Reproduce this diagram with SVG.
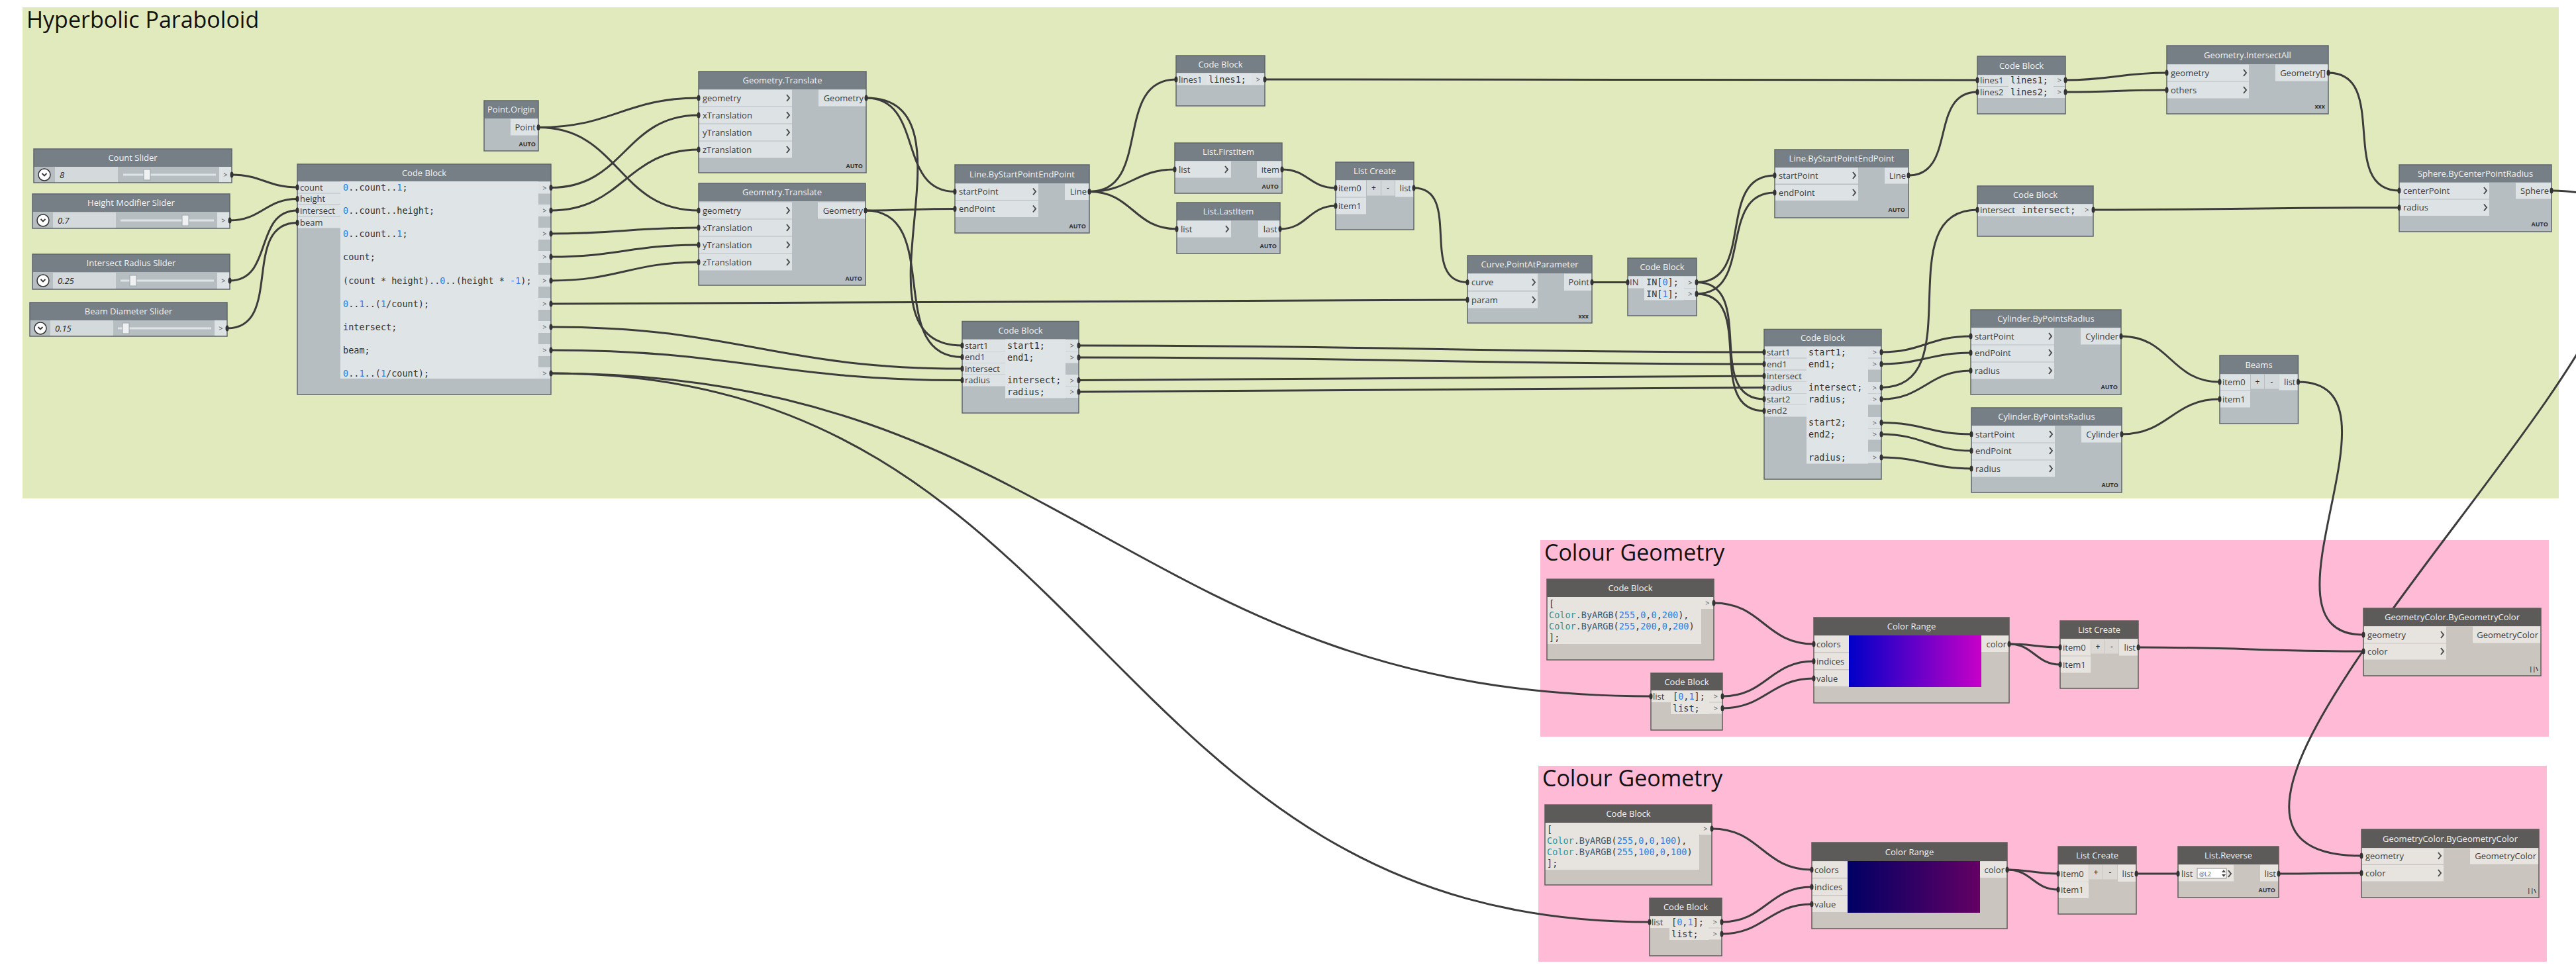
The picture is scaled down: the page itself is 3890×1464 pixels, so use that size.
<svg xmlns="http://www.w3.org/2000/svg" width="3890" height="1464" viewBox="0 0 3890 1464">
<defs>
<style>
text{font-family:"Open Sans","Liberation Sans",sans-serif}
.gt{font-size:34px;fill:#111}
.ht{font-size:13px;fill:#f3f3f3;text-anchor:middle}
.pl{font-size:13px;fill:#3b3b3b}
.pr{font-size:13px;fill:#3b3b3b;text-anchor:end}
.cd{font-family:"DejaVu Sans Mono","Liberation Mono",monospace;font-size:13.5px;fill:#333}
.nu{fill:#2a80e4}
.cl{fill:#2f9396}
.fn{fill:#3d5a75}
.lc{font-size:9px;font-weight:bold;fill:#333;text-anchor:end}
.op{font-size:11px;fill:#555;text-anchor:middle}
.vl{font-size:13px;font-style:italic;fill:#222}
.bt{font-size:12px;fill:#222;text-anchor:middle}
.nb{fill:#b7bec2}
.nh{fill:#767f85}
.nc{fill:#dde2e4}
.ca{fill:#dfe4e6}
.pb{fill:#cac5bf}
.ph{fill:#5d5b59}
.pc{fill:#e7e4e0}
.bd{fill:none;stroke:#5f666b;stroke-width:1.5}
.pbd{fill:none;stroke:#5e5c5a;stroke-width:1.5}
.btc{fill:#d3d8da}
.pbtc{fill:#dcd8d3}
.vb{fill:#d4d9db}
.tr{fill:#dfe3e5}
.th{fill:#eef0f1;stroke:#9aa3a8;stroke-width:1}
.btn{fill:#fff;stroke:#333;stroke-width:1.5}
.chv{fill:none;stroke:#333;stroke-width:1.8}
.ar{fill:none;stroke:#4a4a4a;stroke-width:2}
.w{fill:none;stroke:#3c3c3c;stroke-width:3}
.nub{fill:#333}
</style>
<linearGradient id="gr1" x1="0" y1="0" x2="1" y2="0"><stop offset="0" stop-color="#0000c8"/><stop offset="1" stop-color="#c800c8"/></linearGradient>
<linearGradient id="gr2" x1="0" y1="0" x2="1" y2="0"><stop offset="0" stop-color="#000064"/><stop offset="1" stop-color="#640064"/></linearGradient>
</defs>
<rect x="0" y="0" width="3890" height="1464" fill="#ffffff"/>
<g id="groups">
<rect x="34" y="11" width="3830" height="742" fill="#e1eabc"/>
<text class="gt" x="40" y="42">Hyperbolic Paraboloid</text>
<rect x="2326" y="816" width="1523" height="297" fill="#ffbad6"/>
<text class="gt" x="2332" y="847">Colour Geometry</text>
<rect x="2323" y="1157" width="1523" height="296" fill="#ffbad6"/>
<text class="gt" x="2329" y="1188">Colour Geometry</text>
</g>
<g id="connectors">
<path class="w" d="M350,264 C395,264 404,283 449,283"/>
<path class="w" d="M347,333 C395,333 401,300.5 449,300.5"/>
<path class="w" d="M347,424 C413,424 383,318 449,318"/>
<path class="w" d="M343,496 C429,496 363,336.5 449,336.5"/>
<path class="w" d="M813,192.6 C924,192.6 944,148 1055,148"/>
<path class="w" d="M813,192.6 C936,192.6 932,318 1055,318"/>
<path class="w" d="M832,283.5 C944,283.5 943,174 1055,174"/>
<path class="w" d="M832,318 C940.5,318 946.5,226 1055,226"/>
<path class="w" d="M832,353 C932,353 955,344 1055,344"/>
<path class="w" d="M832,388 C933,388 954,370 1055,370"/>
<path class="w" d="M832,424 C933,424 954,396 1055,396"/>
<path class="w" d="M832,459 C1455,459 1593,453 2216,453"/>
<path class="w" d="M832,494 C1113,494 1172,557 1453,557"/>
<path class="w" d="M832,529 C1112,529 1173,574.5 1453,574.5"/>
<path class="w" d="M832,564 C1611,564 1714,1052 2493,1052"/>
<path class="w" d="M832,564 C1667,564 1656,1393 2491,1393"/>
<path class="w" d="M1308,148 C1396,148 1354,289.5 1442,289.5"/>
<path class="w" d="M1308,148 C1488.5,148 1272.5,522 1453,522"/>
<path class="w" d="M1307,318 C1368,318 1381,315.5 1442,315.5"/>
<path class="w" d="M1307,318 C1426,318 1334,539.5 1453,539.5"/>
<path class="w" d="M1645,289.5 C1741,289.5 1680,120 1776,120"/>
<path class="w" d="M1645,289.5 C1705,289.5 1714,256 1774,256"/>
<path class="w" d="M1645,289.5 C1710,289.5 1712,346 1777,346"/>
<path class="w" d="M1936,256 C1975,256 1978,284 2017,284"/>
<path class="w" d="M1933,346 C1974,346 1976,311 2017,311"/>
<path class="w" d="M2135,284 C2209,284 2142,426.5 2216,426.5"/>
<path class="w" d="M2404,426.5 L2458,426.5"/>
<path class="w" d="M2562,426.5 C2652,426.5 2590,265 2680,265"/>
<path class="w" d="M2562,444 C2649,444 2593,291 2680,291"/>
<path class="w" d="M2562,426.5 C2654,426.5 2572,603 2664,603"/>
<path class="w" d="M2562,444 C2654,444 2572,620.7 2664,620.7"/>
<path class="w" d="M1629,522 C2095,522 2198,532 2664,532"/>
<path class="w" d="M1629,540 C2095,540 2198,550 2664,550"/>
<path class="w" d="M1629,574.5 C2095,574.5 2198,568 2664,568"/>
<path class="w" d="M1629,592 C2095,592 2198,585.5 2664,585.5"/>
<path class="w" d="M1910,120 C2394,120 2502,121 2986,121"/>
<path class="w" d="M2882,265 C2955.5,265 2912.5,139 2986,139"/>
<path class="w" d="M3119,121 C3188,121 3203,110 3272,110"/>
<path class="w" d="M3119,139 C3188,139 3203,136 3272,136"/>
<path class="w" d="M3516,110 C3609.5,110 3529.5,288 3623,288"/>
<path class="w" d="M2841,585.5 C2978,585.5 2849,317 2986,317"/>
<path class="w" d="M3161,317 C3369,317 3415,313.7 3623,313.7"/>
<path class="w" d="M2841,532 C2903,532 2914,508 2976,508"/>
<path class="w" d="M2841,550 C2902,550 2915,533 2976,533"/>
<path class="w" d="M2841,603 C2905,603 2912,560 2976,560"/>
<path class="w" d="M2841,638.6 C2903,638.6 2915,656 2977,656"/>
<path class="w" d="M2841,656 C2903,656 2915,681 2977,681"/>
<path class="w" d="M2841,691 C2903,691 2915,708 2977,708"/>
<path class="w" d="M3203,508 C3277,508 3278,577 3352,577"/>
<path class="w" d="M3204,656 C3275,656 3281,603 3352,603"/>
<path class="w" d="M3470.5,577 C3648,577 3391.5,959 3569,959"/>
<path class="w" d="M3853,288 C4323,288 3096,1293 3566,1293"/>
<path class="w" d="M2588,911 C2661.5,911 2665.5,973 2739,973"/>
<path class="w" d="M2601,1052 C2667.5,1052 2672.5,999 2739,999"/>
<path class="w" d="M2601,1070 C2666,1070 2674,1025 2739,1025"/>
<path class="w" d="M3034,973 C3069,973 3076,978 3111,978"/>
<path class="w" d="M3034,973 C3071,973 3074,1004 3111,1004"/>
<path class="w" d="M3229,978 C3382,978 3416,984 3569,984"/>
<path class="w" d="M2585,1252 C2658.5,1252 2662.5,1314 2736,1314"/>
<path class="w" d="M2600,1393 C2666,1393 2670,1340 2736,1340"/>
<path class="w" d="M2600,1411 C2664,1411 2672,1366 2736,1366"/>
<path class="w" d="M3031,1314 C3066,1314 3073,1320 3108,1320"/>
<path class="w" d="M3031,1314 C3068,1314 3071,1344 3108,1344"/>
<path class="w" d="M3226,1320 L3289,1320"/>
<path class="w" d="M3441,1320 C3497,1320 3510,1319 3566,1319"/>
</g>
<g id="nodes">
<g id="count-slider">
<rect class="nb" x="51" y="225" width="299" height="51"/>
<rect class="nh" x="51" y="225" width="299" height="27"/>
<text class="ht" x="200.5" y="243">Count Slider</text>
<circle class="btn" cx="67" cy="264" r="9"/>
<polyline class="chv" points="63.5,262 67,265.5 70.5,262"/>
<rect class="vb" x="83" y="252" width="95" height="24"/>
<text class="vl" x="90" y="268.5">8</text>
<rect class="tr" x="186" y="262.5" width="140" height="3"/>
<rect class="th" x="217" y="256" width="10" height="16"/>
<rect class="nc" x="331" y="252" width="19" height="24"/>
<text class="op" x="340.5" y="268">&gt;</text>
<rect class="bd" x="51" y="225" width="299" height="51"/>
</g>
<g id="height-slider">
<rect class="nb" x="49" y="293" width="298" height="52"/>
<rect class="nh" x="49" y="293" width="298" height="27"/>
<text class="ht" x="198" y="311">Height Modifier Slider</text>
<circle class="btn" cx="65" cy="333" r="9"/>
<polyline class="chv" points="61.5,331 65,334.5 68.5,331"/>
<rect class="vb" x="80" y="321" width="95" height="24"/>
<text class="vl" x="87" y="337.5">0.7</text>
<rect class="tr" x="182" y="331.5" width="141" height="3"/>
<rect class="th" x="275" y="325" width="10" height="16"/>
<rect class="nc" x="328" y="321" width="19" height="24"/>
<text class="op" x="337.5" y="337">&gt;</text>
<rect class="bd" x="49" y="293" width="298" height="52"/>
</g>
<g id="intersect-slider">
<rect class="nb" x="49" y="384" width="298" height="53"/>
<rect class="nh" x="49" y="384" width="298" height="27"/>
<text class="ht" x="198" y="402">Intersect Radius Slider</text>
<circle class="btn" cx="65" cy="424" r="9"/>
<polyline class="chv" points="61.5,422 65,425.5 68.5,422"/>
<rect class="vb" x="80" y="412" width="95" height="25"/>
<text class="vl" x="87" y="428.5">0.25</text>
<rect class="tr" x="182" y="422.5" width="141" height="3"/>
<rect class="th" x="196" y="416" width="10" height="16"/>
<rect class="nc" x="328" y="412" width="19" height="25"/>
<text class="op" x="337.5" y="428">&gt;</text>
<rect class="bd" x="49" y="384" width="298" height="53"/>
</g>
<g id="beam-slider">
<rect class="nb" x="45" y="457" width="298" height="51"/>
<rect class="nh" x="45" y="457" width="298" height="27"/>
<text class="ht" x="194" y="475">Beam Diameter Slider</text>
<circle class="btn" cx="61" cy="496" r="9"/>
<polyline class="chv" points="57.5,494 61,497.5 64.5,494"/>
<rect class="vb" x="76" y="484" width="95" height="24"/>
<text class="vl" x="83" y="500.5">0.15</text>
<rect class="tr" x="178" y="494.5" width="141" height="3"/>
<rect class="th" x="185" y="488" width="10" height="16"/>
<rect class="nc" x="324" y="484" width="19" height="24"/>
<text class="op" x="333.5" y="500">&gt;</text>
<rect class="bd" x="45" y="457" width="298" height="51"/>
</g>
<g id="code-block-main">
<rect class="nb" x="449" y="248" width="383" height="348"/>
<rect class="nh" x="449" y="248" width="383" height="26"/>
<text class="ht" x="640.5" y="265.5">Code Block</text>
<rect class="nc" x="449" y="274.5" width="65" height="17"/>
<rect class="nc" x="449" y="292.5" width="65" height="16.5"/>
<rect class="nc" x="449" y="310" width="65" height="16.5"/>
<rect class="nc" x="449" y="327.5" width="65" height="17"/>
<text class="pl" x="453" y="287.5">count</text>
<text class="pl" x="453" y="305">height</text>
<text class="pl" x="453" y="322.5">intersect</text>
<text class="pl" x="453" y="340.5">beam</text>
<rect class="ca" x="514" y="274" width="299" height="298"/>
<text class="cd" x="518" y="288"><tspan class="nu">0</tspan>..count..<tspan class="nu">1</tspan>;</text>
<text class="cd" x="518" y="322.5"><tspan class="nu">0</tspan>..count..height;</text>
<text class="cd" x="518" y="357.5"><tspan class="nu">0</tspan>..count..<tspan class="nu">1</tspan>;</text>
<text class="cd" x="518" y="392.5">count;</text>
<text class="cd" x="518" y="428.5">(count * height)..<tspan class="nu">0</tspan>..(height * <tspan class="nu">-1</tspan>);</text>
<text class="cd" x="518" y="463.5"><tspan class="nu">0</tspan>..<tspan class="nu">1</tspan>..(<tspan class="nu">1</tspan>/count);</text>
<text class="cd" x="518" y="498.5">intersect;</text>
<text class="cd" x="518" y="533.5">beam;</text>
<text class="cd" x="518" y="568.5"><tspan class="nu">0</tspan>..<tspan class="nu">1</tspan>..(<tspan class="nu">1</tspan>/count);</text>
<rect class="nc" x="813" y="274.5" width="19" height="18"/>
<rect class="nc" x="813" y="309" width="19" height="18"/>
<rect class="nc" x="813" y="344" width="19" height="18"/>
<rect class="nc" x="813" y="379" width="19" height="18"/>
<rect class="nc" x="813" y="415" width="19" height="18"/>
<rect class="nc" x="813" y="450" width="19" height="18"/>
<rect class="nc" x="813" y="485" width="19" height="18"/>
<rect class="nc" x="813" y="520" width="19" height="18"/>
<rect class="nc" x="813" y="555" width="19" height="17"/>
<text class="op" x="822.5" y="287.5">&gt;</text>
<text class="op" x="822.5" y="322">&gt;</text>
<text class="op" x="822.5" y="357">&gt;</text>
<text class="op" x="822.5" y="392">&gt;</text>
<text class="op" x="822.5" y="428">&gt;</text>
<text class="op" x="822.5" y="463">&gt;</text>
<text class="op" x="822.5" y="498">&gt;</text>
<text class="op" x="822.5" y="533">&gt;</text>
<text class="op" x="822.5" y="568">&gt;</text>
<rect class="bd" x="449" y="248" width="383" height="348"/>
</g>
<g id="point-origin">
<rect class="nb" x="731" y="152" width="82" height="76"/>
<rect class="nh" x="731" y="152" width="82" height="27"/>
<text class="ht" x="772" y="170">Point.Origin</text>
<rect class="nc" x="771" y="179.5" width="42" height="25"/>
<text class="pr" x="809" y="197">Point</text>
<text class="lc" x="809" y="221">AUTO</text>
<rect class="bd" x="731" y="152" width="82" height="76"/>
</g>
<g id="geometry-translate-1">
<rect class="nb" x="1055" y="108" width="253" height="153"/>
<rect class="nh" x="1055" y="108" width="253" height="27"/>
<text class="ht" x="1181.5" y="126">Geometry.Translate</text>
<rect class="nc" x="1055" y="135.5" width="141" height="25"/>
<rect class="nc" x="1055" y="161.5" width="141" height="25"/>
<rect class="nc" x="1055" y="187.5" width="141" height="25"/>
<rect class="nc" x="1055" y="213.5" width="141" height="25"/>
<text class="pl" x="1061" y="152.5">geometry</text>
<text class="pl" x="1061" y="178.5">xTranslation</text>
<text class="pl" x="1061" y="204.5">yTranslation</text>
<text class="pl" x="1061" y="230.5">zTranslation</text>
<polyline class="ar" points="1188,143 1192,148 1188,153"/>
<polyline class="ar" points="1188,169 1192,174 1188,179"/>
<polyline class="ar" points="1188,195 1192,200 1188,205"/>
<polyline class="ar" points="1188,221 1192,226 1188,231"/>
<rect class="nc" x="1236" y="135.5" width="72" height="25"/>
<text class="pr" x="1304" y="152.5">Geometry</text>
<text class="lc" x="1303" y="254">AUTO</text>
<rect class="bd" x="1055" y="108" width="253" height="153"/>
</g>
<g id="geometry-translate-2">
<rect class="nb" x="1055" y="277" width="252" height="154"/>
<rect class="nh" x="1055" y="277" width="252" height="27"/>
<text class="ht" x="1181" y="295">Geometry.Translate</text>
<rect class="nc" x="1055" y="305.5" width="141" height="25"/>
<rect class="nc" x="1055" y="331.5" width="141" height="25"/>
<rect class="nc" x="1055" y="357.5" width="141" height="25"/>
<rect class="nc" x="1055" y="383.5" width="141" height="25"/>
<text class="pl" x="1061" y="322.5">geometry</text>
<text class="pl" x="1061" y="348.5">xTranslation</text>
<text class="pl" x="1061" y="374.5">yTranslation</text>
<text class="pl" x="1061" y="400.5">zTranslation</text>
<polyline class="ar" points="1188,313 1192,318 1188,323"/>
<polyline class="ar" points="1188,339 1192,344 1188,349"/>
<polyline class="ar" points="1188,365 1192,370 1188,375"/>
<polyline class="ar" points="1188,391 1192,396 1188,401"/>
<rect class="nc" x="1235" y="305.5" width="72" height="25"/>
<text class="pr" x="1303" y="322.5">Geometry</text>
<text class="lc" x="1302" y="424">AUTO</text>
<rect class="bd" x="1055" y="277" width="252" height="154"/>
</g>
<g id="line-by-start-end-1">
<rect class="nb" x="1442" y="249" width="203" height="103"/>
<rect class="nh" x="1442" y="249" width="203" height="28"/>
<text class="ht" x="1543.5" y="267.5">Line.ByStartPointEndPoint</text>
<rect class="nc" x="1442" y="277.5" width="126" height="24.5"/>
<rect class="nc" x="1442" y="303" width="126" height="25"/>
<text class="pl" x="1448" y="294">startPoint</text>
<text class="pl" x="1448" y="320">endPoint</text>
<polyline class="ar" points="1560,284.5 1564,289.5 1560,294.5"/>
<polyline class="ar" points="1560,310.5 1564,315.5 1560,320.5"/>
<rect class="nc" x="1608" y="277.5" width="37" height="24.5"/>
<text class="pr" x="1641" y="294">Line</text>
<text class="lc" x="1640" y="345">AUTO</text>
<rect class="bd" x="1442" y="249" width="203" height="103"/>
</g>
<g id="code-block-2">
<rect class="nb" x="1453" y="485.5" width="176" height="138.5"/>
<rect class="nh" x="1453" y="485.5" width="176" height="27"/>
<text class="ht" x="1541" y="503.5">Code Block</text>
<rect class="nc" x="1453" y="513" width="65" height="17.5"/>
<rect class="nc" x="1453" y="531" width="65" height="17"/>
<rect class="nc" x="1453" y="548.5" width="65" height="17"/>
<rect class="nc" x="1453" y="566" width="65" height="17.5"/>
<text class="pl" x="1457" y="526.5">start1</text>
<text class="pl" x="1457" y="544">end1</text>
<text class="pl" x="1457" y="561.5">intersect</text>
<text class="pl" x="1457" y="579">radius</text>
<rect class="ca" x="1518" y="512.5" width="91" height="89"/>
<text class="cd" x="1521" y="526.5">start1;</text>
<text class="cd" x="1521" y="544.5">end1;</text>
<text class="cd" x="1521" y="579">intersect;</text>
<text class="cd" x="1521" y="596.5">radius;</text>
<rect class="nc" x="1609" y="513" width="20" height="17.5"/>
<rect class="nc" x="1609" y="531" width="20" height="17.5"/>
<rect class="nc" x="1609" y="566" width="20" height="17.5"/>
<rect class="nc" x="1609" y="584" width="20" height="17"/>
<text class="op" x="1619" y="526">&gt;</text>
<text class="op" x="1619" y="544">&gt;</text>
<text class="op" x="1619" y="578.5">&gt;</text>
<text class="op" x="1619" y="596">&gt;</text>
<rect class="bd" x="1453" y="485.5" width="176" height="138.5"/>
</g>
<g id="code-block-lines1">
<rect class="nb" x="1776" y="84" width="134" height="76"/>
<rect class="nh" x="1776" y="84" width="134" height="26"/>
<text class="ht" x="1843" y="101.5">Code Block</text>
<rect class="nc" x="1776" y="110.5" width="46" height="18"/>
<text class="pl" x="1780" y="124.5">lines1</text>
<rect class="ca" x="1822" y="110.5" width="68" height="18"/>
<text class="cd" x="1825" y="125">lines1;</text>
<rect class="nc" x="1890" y="110.5" width="20" height="18"/>
<text class="op" x="1900" y="124">&gt;</text>
<rect class="bd" x="1776" y="84" width="134" height="76"/>
</g>
<g id="list-first-item">
<rect class="nb" x="1774" y="216" width="162" height="76"/>
<rect class="nh" x="1774" y="216" width="162" height="27"/>
<text class="ht" x="1855" y="234">List.FirstItem</text>
<rect class="nc" x="1774" y="243.5" width="85" height="25"/>
<text class="pl" x="1780" y="260.5">list</text>
<polyline class="ar" points="1850,251 1854,256 1850,261"/>
<rect class="nc" x="1898" y="243.5" width="38" height="25"/>
<text class="pr" x="1932" y="260.5">item</text>
<text class="lc" x="1931" y="285">AUTO</text>
<rect class="bd" x="1774" y="216" width="162" height="76"/>
</g>
<g id="list-last-item">
<rect class="nb" x="1777" y="306" width="156" height="77"/>
<rect class="nh" x="1777" y="306" width="156" height="27"/>
<text class="ht" x="1855" y="324">List.LastItem</text>
<rect class="nc" x="1777" y="333.5" width="82" height="25"/>
<text class="pl" x="1783" y="350.5">list</text>
<polyline class="ar" points="1851,341 1855,346 1851,351"/>
<rect class="nc" x="1900" y="333.5" width="33" height="25"/>
<text class="pr" x="1929" y="350.5">last</text>
<text class="lc" x="1928" y="375">AUTO</text>
<rect class="bd" x="1777" y="306" width="156" height="77"/>
</g>
<g id="list-create-1">
<rect class="nb" x="2017" y="245" width="118" height="102"/>
<rect class="nh" x="2017" y="245" width="118" height="27"/>
<text class="ht" x="2076" y="263">List Create</text>
<rect class="nc" x="2017" y="272.5" width="46" height="25"/>
<rect class="nc" x="2017" y="298.5" width="46" height="25"/>
<text class="pl" x="2021" y="289">item0</text>
<text class="pl" x="2021" y="315.5">item1</text>
<rect class="btc" x="2064" y="272.5" width="21" height="23"/>
<rect class="btc" x="2086" y="272.5" width="20" height="23"/>
<text class="bt" x="2074.5" y="288">+</text>
<text class="bt" x="2096" y="288">-</text>
<rect class="nc" x="2107" y="272.5" width="28" height="25"/>
<text class="pr" x="2131" y="289">list</text>
<rect class="bd" x="2017" y="245" width="118" height="102"/>
</g>
<g id="curve-point-at-parameter">
<rect class="nb" x="2216" y="386" width="188" height="102"/>
<rect class="nh" x="2216" y="386" width="188" height="27"/>
<text class="ht" x="2310" y="404">Curve.PointAtParameter</text>
<rect class="nc" x="2216" y="413.5" width="106" height="25.5"/>
<rect class="nc" x="2216" y="440.5" width="106" height="25"/>
<text class="pl" x="2222" y="431">curve</text>
<text class="pl" x="2222" y="457.5">param</text>
<polyline class="ar" points="2314,421.5 2318,426.5 2314,431.5"/>
<polyline class="ar" points="2314,448 2318,453 2314,458"/>
<rect class="nc" x="2362" y="413.5" width="42" height="25.5"/>
<text class="pr" x="2400" y="431">Point</text>
<text class="lc" x="2399" y="481">xxx</text>
<rect class="bd" x="2216" y="386" width="188" height="102"/>
</g>
<g id="code-block-in">
<rect class="nb" x="2458" y="390" width="104" height="87"/>
<rect class="nh" x="2458" y="390" width="104" height="27"/>
<text class="ht" x="2510" y="408">Code Block</text>
<rect class="nc" x="2458" y="417.5" width="25" height="18"/>
<text class="pl" x="2461" y="431">IN</text>
<rect class="ca" x="2483" y="417.5" width="60" height="36"/>
<text class="cd" x="2486" y="431">IN[<tspan class="nu">0</tspan>];</text>
<text class="cd" x="2486" y="448.5">IN[<tspan class="nu">1</tspan>];</text>
<rect class="nc" x="2543" y="417.5" width="19" height="17.5"/>
<rect class="nc" x="2543" y="435.5" width="19" height="17.5"/>
<text class="op" x="2552.5" y="430.5">&gt;</text>
<text class="op" x="2552.5" y="448">&gt;</text>
<rect class="bd" x="2458" y="390" width="104" height="87"/>
</g>
<g id="line-by-start-end-2">
<rect class="nb" x="2680" y="226" width="202" height="103"/>
<rect class="nh" x="2680" y="226" width="202" height="27"/>
<text class="ht" x="2781" y="244">Line.ByStartPointEndPoint</text>
<rect class="nc" x="2680" y="253.5" width="126" height="24"/>
<rect class="nc" x="2680" y="279" width="126" height="24"/>
<text class="pl" x="2686" y="269.5">startPoint</text>
<text class="pl" x="2686" y="295.5">endPoint</text>
<polyline class="ar" points="2798,260 2802,265 2798,270"/>
<polyline class="ar" points="2798,286 2802,291 2798,296"/>
<rect class="nc" x="2846" y="253.5" width="36" height="24"/>
<text class="pr" x="2878" y="269.5">Line</text>
<text class="lc" x="2877" y="320">AUTO</text>
<rect class="bd" x="2680" y="226" width="202" height="103"/>
</g>
<g id="code-block-3">
<rect class="nb" x="2664" y="497.5" width="177" height="226.5"/>
<rect class="nh" x="2664" y="497.5" width="177" height="26"/>
<text class="ht" x="2752.5" y="515">Code Block</text>
<rect class="nc" x="2664" y="523.5" width="64" height="17"/>
<rect class="nc" x="2664" y="541.5" width="64" height="17"/>
<rect class="nc" x="2664" y="559.5" width="64" height="17"/>
<rect class="nc" x="2664" y="577" width="64" height="17"/>
<rect class="nc" x="2664" y="594.5" width="64" height="17"/>
<rect class="nc" x="2664" y="612" width="64" height="17.5"/>
<text class="pl" x="2668" y="536.5">start1</text>
<text class="pl" x="2668" y="554.5">end1</text>
<text class="pl" x="2668" y="572.5">intersect</text>
<text class="pl" x="2668" y="590">radius</text>
<text class="pl" x="2668" y="607.5">start2</text>
<text class="pl" x="2668" y="625">end2</text>
<rect class="ca" x="2728" y="523.5" width="93" height="177"/>
<text class="cd" x="2731" y="536.5">start1;</text>
<text class="cd" x="2731" y="554.5">end1;</text>
<text class="cd" x="2731" y="590">intersect;</text>
<text class="cd" x="2731" y="607.5">radius;</text>
<text class="cd" x="2731" y="643">start2;</text>
<text class="cd" x="2731" y="660.5">end2;</text>
<text class="cd" x="2731" y="695.5">radius;</text>
<rect class="nc" x="2821" y="523.5" width="20" height="17"/>
<rect class="nc" x="2821" y="541.5" width="20" height="17"/>
<rect class="nc" x="2821" y="577" width="20" height="17"/>
<rect class="nc" x="2821" y="594.5" width="20" height="17"/>
<rect class="nc" x="2821" y="630" width="20" height="17"/>
<rect class="nc" x="2821" y="647.5" width="20" height="17"/>
<rect class="nc" x="2821" y="682.5" width="20" height="17"/>
<text class="op" x="2831" y="536">&gt;</text>
<text class="op" x="2831" y="554">&gt;</text>
<text class="op" x="2831" y="589.5">&gt;</text>
<text class="op" x="2831" y="607">&gt;</text>
<text class="op" x="2831" y="642.5">&gt;</text>
<text class="op" x="2831" y="660">&gt;</text>
<text class="op" x="2831" y="695">&gt;</text>
<rect class="bd" x="2664" y="497.5" width="177" height="226.5"/>
</g>
<g id="code-block-lines">
<rect class="nb" x="2986" y="85" width="133" height="87"/>
<rect class="nh" x="2986" y="85" width="133" height="28"/>
<text class="ht" x="3052.5" y="103.5">Code Block</text>
<rect class="nc" x="2986" y="113.5" width="47" height="16.5"/>
<rect class="nc" x="2986" y="131" width="47" height="17"/>
<text class="pl" x="2990" y="125.5">lines1</text>
<text class="pl" x="2990" y="143.5">lines2</text>
<rect class="ca" x="3033" y="113.5" width="68" height="34.5"/>
<text class="cd" x="3036" y="126">lines1;</text>
<text class="cd" x="3036" y="144">lines2;</text>
<rect class="nc" x="3101" y="113.5" width="18" height="16.5"/>
<rect class="nc" x="3101" y="131" width="18" height="17"/>
<text class="op" x="3110" y="125">&gt;</text>
<text class="op" x="3110" y="143">&gt;</text>
<rect class="bd" x="2986" y="85" width="133" height="87"/>
</g>
<g id="geometry-intersect-all">
<rect class="nb" x="3272" y="69" width="244" height="103"/>
<rect class="nh" x="3272" y="69" width="244" height="28"/>
<text class="ht" x="3394" y="87.5">Geometry.IntersectAll</text>
<rect class="nc" x="3272" y="97.5" width="124" height="25"/>
<rect class="nc" x="3272" y="123.5" width="124" height="25"/>
<text class="pl" x="3278" y="114.5">geometry</text>
<text class="pl" x="3278" y="140.5">others</text>
<polyline class="ar" points="3388,105 3392,110 3388,115"/>
<polyline class="ar" points="3388,131 3392,136 3388,141"/>
<rect class="nc" x="3436" y="97.5" width="80" height="25"/>
<text class="pr" x="3512" y="114.5">Geometry[]</text>
<text class="lc" x="3511" y="164">xxx</text>
<rect class="bd" x="3272" y="69" width="244" height="103"/>
</g>
<g id="code-block-intersect">
<rect class="nb" x="2986" y="281" width="175" height="76"/>
<rect class="nh" x="2986" y="281" width="175" height="27"/>
<text class="ht" x="3073.5" y="299">Code Block</text>
<rect class="nc" x="2986" y="308.5" width="64" height="18"/>
<text class="pl" x="2990" y="321.5">intersect</text>
<rect class="ca" x="3050" y="308.5" width="92" height="18"/>
<text class="cd" x="3053" y="322">intersect;</text>
<rect class="nc" x="3142" y="308.5" width="19" height="18"/>
<text class="op" x="3151.5" y="321">&gt;</text>
<rect class="bd" x="2986" y="281" width="175" height="76"/>
</g>
<g id="sphere-by-center-point-radius">
<rect class="nb" x="3623" y="249" width="230" height="101"/>
<rect class="nh" x="3623" y="249" width="230" height="26.5"/>
<text class="ht" x="3738" y="267">Sphere.ByCenterPointRadius</text>
<rect class="nc" x="3623" y="276" width="136" height="24.5"/>
<rect class="nc" x="3623" y="301.5" width="136" height="24.5"/>
<text class="pl" x="3629" y="292.5">centerPoint</text>
<text class="pl" x="3629" y="318">radius</text>
<polyline class="ar" points="3751,283 3755,288 3751,293"/>
<polyline class="ar" points="3751,308.5 3755,313.5 3751,318.5"/>
<rect class="nc" x="3799" y="276" width="54" height="24.5"/>
<text class="pr" x="3849" y="292.5">Sphere</text>
<text class="lc" x="3848" y="342">AUTO</text>
<rect class="bd" x="3623" y="249" width="230" height="101"/>
</g>
<g id="cylinder-1">
<rect class="nb" x="2976" y="468" width="227" height="128"/>
<rect class="nh" x="2976" y="468" width="227" height="27"/>
<text class="ht" x="3089.5" y="486">Cylinder.ByPointsRadius</text>
<rect class="nc" x="2976" y="495.5" width="126" height="25"/>
<rect class="nc" x="2976" y="521.5" width="126" height="25"/>
<rect class="nc" x="2976" y="547.5" width="126" height="25"/>
<text class="pl" x="2982" y="512.5">startPoint</text>
<text class="pl" x="2982" y="537.5">endPoint</text>
<text class="pl" x="2982" y="564.5">radius</text>
<polyline class="ar" points="3094,503 3098,508 3094,513"/>
<polyline class="ar" points="3094,528 3098,533 3094,538"/>
<polyline class="ar" points="3094,555 3098,560 3094,565"/>
<rect class="nc" x="3142" y="495.5" width="61" height="25"/>
<text class="pr" x="3199" y="512.5">Cylinder</text>
<text class="lc" x="3198" y="588">AUTO</text>
<rect class="bd" x="2976" y="468" width="227" height="128"/>
</g>
<g id="cylinder-2">
<rect class="nb" x="2977" y="616" width="227" height="128"/>
<rect class="nh" x="2977" y="616" width="227" height="27"/>
<text class="ht" x="3090.5" y="634">Cylinder.ByPointsRadius</text>
<rect class="nc" x="2977" y="643.5" width="126" height="25"/>
<rect class="nc" x="2977" y="669.5" width="126" height="25"/>
<rect class="nc" x="2977" y="695.5" width="126" height="25"/>
<text class="pl" x="2983" y="660.5">startPoint</text>
<text class="pl" x="2983" y="685.5">endPoint</text>
<text class="pl" x="2983" y="712.5">radius</text>
<polyline class="ar" points="3095,651 3099,656 3095,661"/>
<polyline class="ar" points="3095,676 3099,681 3095,686"/>
<polyline class="ar" points="3095,703 3099,708 3095,713"/>
<rect class="nc" x="3143" y="643.5" width="61" height="25"/>
<text class="pr" x="3200" y="660.5">Cylinder</text>
<text class="lc" x="3199" y="736">AUTO</text>
<rect class="bd" x="2977" y="616" width="227" height="128"/>
</g>
<g id="beams">
<rect class="nb" x="3352" y="537" width="118.5" height="103"/>
<rect class="nh" x="3352" y="537" width="118.5" height="28"/>
<text class="ht" x="3411" y="555.5">Beams</text>
<rect class="nc" x="3352" y="565.5" width="46" height="24"/>
<rect class="nc" x="3352" y="590.5" width="46" height="25"/>
<text class="pl" x="3356" y="581.5">item0</text>
<text class="pl" x="3356" y="607.5">item1</text>
<rect class="btc" x="3399" y="565.5" width="20" height="22"/>
<rect class="btc" x="3420" y="565.5" width="21" height="22"/>
<text class="bt" x="3409" y="580.5">+</text>
<text class="bt" x="3430.5" y="580.5">-</text>
<rect class="nc" x="3441.5" y="565.5" width="29" height="24"/>
<text class="pr" x="3466.5" y="581.5">list</text>
<rect class="bd" x="3352" y="537" width="118.5" height="103"/>
</g>
<g id="code-block-colors-1">
<rect class="pb" x="2336" y="875" width="252" height="122"/>
<rect class="ph" x="2336" y="875" width="252" height="27"/>
<text class="ht" x="2462" y="893">Code Block</text>
<rect class="pc" x="2336" y="902" width="233" height="71"/>
<text class="cd" x="2339" y="917">[</text>
<text class="cd" x="2339" y="934"><tspan class="cl">Color</tspan><tspan class="fn">.ByARGB</tspan>(<tspan class="nu">255</tspan>,<tspan class="nu">0</tspan>,<tspan class="nu">0</tspan>,<tspan class="nu">200</tspan>),</text>
<text class="cd" x="2339" y="951"><tspan class="cl">Color</tspan><tspan class="fn">.ByARGB</tspan>(<tspan class="nu">255</tspan>,<tspan class="nu">200</tspan>,<tspan class="nu">0</tspan>,<tspan class="nu">200</tspan>)</text>
<text class="cd" x="2339" y="968">];</text>
<rect class="pc" x="2569" y="902" width="19" height="18"/>
<text class="op" x="2578.5" y="915">&gt;</text>
<rect class="pbd" x="2336" y="875" width="252" height="122"/>
</g>
<g id="code-block-list-1">
<rect class="pb" x="2493" y="1017" width="108" height="86"/>
<rect class="ph" x="2493" y="1017" width="108" height="26"/>
<text class="ht" x="2547" y="1034.5">Code Block</text>
<rect class="pc" x="2493" y="1043.5" width="30" height="17.5"/>
<text class="pl" x="2496" y="1056.5">list</text>
<rect class="pc" x="2523" y="1043.5" width="58" height="35.5"/>
<text class="cd" x="2526" y="1057">[<tspan class="nu">0</tspan>,<tspan class="nu">1</tspan>];</text>
<text class="cd" x="2526" y="1075">list;</text>
<rect class="pc" x="2581" y="1043.5" width="20" height="17"/>
<rect class="pc" x="2581" y="1061.5" width="20" height="17"/>
<text class="op" x="2591" y="1056">&gt;</text>
<text class="op" x="2591" y="1074">&gt;</text>
<rect class="pbd" x="2493" y="1017" width="108" height="86"/>
</g>
<g id="color-range-1">
<rect class="pb" x="2739" y="933" width="295" height="129"/>
<rect class="ph" x="2739" y="933" width="295" height="27"/>
<text class="ht" x="2886.5" y="951">Color Range</text>
<rect class="pc" x="2739" y="960.5" width="53" height="24.5"/>
<rect class="pc" x="2739" y="986.5" width="53" height="24.5"/>
<rect class="pc" x="2739" y="1012.5" width="53" height="24.5"/>
<text class="pl" x="2743" y="977.5">colors</text>
<text class="pl" x="2743" y="1003.5">indices</text>
<text class="pl" x="2743" y="1029.5">value</text>
<rect x="2792" y="960" width="200" height="78" fill="url(#gr1)"/>
<rect class="pc" x="2992" y="960.5" width="42" height="24.5"/>
<text class="pr" x="3030" y="977.5">color</text>
<rect class="pbd" x="2739" y="933" width="295" height="129"/>
</g>
<g id="list-create-pink-1">
<rect class="pb" x="3111" y="938" width="118" height="102"/>
<rect class="ph" x="3111" y="938" width="118" height="27"/>
<text class="ht" x="3170" y="956">List Create</text>
<rect class="pc" x="3111" y="965.5" width="46" height="25"/>
<rect class="pc" x="3111" y="991.5" width="46" height="25"/>
<text class="pl" x="3115" y="982.5">item0</text>
<text class="pl" x="3115" y="1008.5">item1</text>
<rect class="pbtc" x="3158" y="965.5" width="20" height="22"/>
<rect class="pbtc" x="3179" y="965.5" width="20" height="22"/>
<text class="bt" x="3168" y="981">+</text>
<text class="bt" x="3189" y="981">-</text>
<rect class="pc" x="3200" y="965.5" width="29" height="25"/>
<text class="pr" x="3225" y="982.5">list</text>
<rect class="pbd" x="3111" y="938" width="118" height="102"/>
</g>
<g id="geometry-color-1">
<rect class="pb" x="3569" y="919" width="268" height="102"/>
<rect class="ph" x="3569" y="919" width="268" height="27"/>
<text class="ht" x="3703" y="937">GeometryColor.ByGeometryColor</text>
<rect class="pc" x="3569" y="946.5" width="125" height="25"/>
<rect class="pc" x="3569" y="972.5" width="125" height="24"/>
<text class="pl" x="3575" y="963.5">geometry</text>
<text class="pl" x="3575" y="988.5">color</text>
<polyline class="ar" points="3686,954 3690,959 3686,964"/>
<polyline class="ar" points="3686,979 3690,984 3686,989"/>
<rect class="pc" x="3734" y="946.5" width="103" height="25"/>
<text class="pr" x="3833" y="963.5">GeometryColor</text>
<text class="lc" x="3833" y="1014">||\</text>
<rect class="pbd" x="3569" y="919" width="268" height="102"/>
</g>
<g id="code-block-colors-2">
<rect class="pb" x="2333" y="1216" width="252" height="121"/>
<rect class="ph" x="2333" y="1216" width="252" height="27"/>
<text class="ht" x="2459" y="1234">Code Block</text>
<rect class="pc" x="2333" y="1243" width="233" height="71"/>
<text class="cd" x="2336" y="1258">[</text>
<text class="cd" x="2336" y="1275"><tspan class="cl">Color</tspan><tspan class="fn">.ByARGB</tspan>(<tspan class="nu">255</tspan>,<tspan class="nu">0</tspan>,<tspan class="nu">0</tspan>,<tspan class="nu">100</tspan>),</text>
<text class="cd" x="2336" y="1292"><tspan class="cl">Color</tspan><tspan class="fn">.ByARGB</tspan>(<tspan class="nu">255</tspan>,<tspan class="nu">100</tspan>,<tspan class="nu">0</tspan>,<tspan class="nu">100</tspan>)</text>
<text class="cd" x="2336" y="1309">];</text>
<rect class="pc" x="2566" y="1243" width="19" height="18"/>
<text class="op" x="2575.5" y="1256">&gt;</text>
<rect class="pbd" x="2333" y="1216" width="252" height="121"/>
</g>
<g id="code-block-list-2">
<rect class="pb" x="2491" y="1357" width="109" height="87"/>
<rect class="ph" x="2491" y="1357" width="109" height="27"/>
<text class="ht" x="2545.5" y="1375">Code Block</text>
<rect class="pc" x="2491" y="1384.5" width="30" height="17.5"/>
<text class="pl" x="2494" y="1397.5">list</text>
<rect class="pc" x="2521" y="1384.5" width="59" height="35.5"/>
<text class="cd" x="2524" y="1398">[<tspan class="nu">0</tspan>,<tspan class="nu">1</tspan>];</text>
<text class="cd" x="2524" y="1416">list;</text>
<rect class="pc" x="2580" y="1384.5" width="20" height="17"/>
<rect class="pc" x="2580" y="1402.5" width="20" height="17"/>
<text class="op" x="2590" y="1397">&gt;</text>
<text class="op" x="2590" y="1415">&gt;</text>
<rect class="pbd" x="2491" y="1357" width="109" height="87"/>
</g>
<g id="color-range-2">
<rect class="pb" x="2736" y="1273" width="295" height="130"/>
<rect class="ph" x="2736" y="1273" width="295" height="28"/>
<text class="ht" x="2883.5" y="1291.5">Color Range</text>
<rect class="pc" x="2736" y="1301.5" width="54" height="24.5"/>
<rect class="pc" x="2736" y="1327.5" width="54" height="24.5"/>
<rect class="pc" x="2736" y="1353.5" width="54" height="24.5"/>
<text class="pl" x="2740" y="1318.5">colors</text>
<text class="pl" x="2740" y="1344.5">indices</text>
<text class="pl" x="2740" y="1370.5">value</text>
<rect x="2790" y="1301" width="200" height="78" fill="url(#gr2)"/>
<rect class="pc" x="2990" y="1301.5" width="41" height="24.5"/>
<text class="pr" x="3027" y="1318.5">color</text>
<rect class="pbd" x="2736" y="1273" width="295" height="130"/>
</g>
<g id="list-create-pink-2">
<rect class="pb" x="3108" y="1279" width="118" height="102"/>
<rect class="ph" x="3108" y="1279" width="118" height="27"/>
<text class="ht" x="3167" y="1297">List Create</text>
<rect class="pc" x="3108" y="1306.5" width="46" height="25.5"/>
<rect class="pc" x="3108" y="1332.5" width="46" height="24.5"/>
<text class="pl" x="3112" y="1324.5">item0</text>
<text class="pl" x="3112" y="1348.5">item1</text>
<rect class="pbtc" x="3155" y="1306.5" width="20" height="22"/>
<rect class="pbtc" x="3176" y="1306.5" width="21" height="22"/>
<text class="bt" x="3165" y="1322">+</text>
<text class="bt" x="3186.5" y="1322">-</text>
<rect class="pc" x="3198" y="1306.5" width="28" height="25.5"/>
<text class="pr" x="3222" y="1324.5">list</text>
<rect class="pbd" x="3108" y="1279" width="118" height="102"/>
</g>
<g id="list-reverse">
<rect class="pb" x="3289" y="1279" width="152" height="77"/>
<rect class="ph" x="3289" y="1279" width="152" height="27"/>
<text class="ht" x="3365" y="1297">List.Reverse</text>
<rect class="pc" x="3289" y="1306.5" width="84" height="25"/>
<text class="pl" x="3294" y="1324.5">list</text>
<rect x="3318" y="1312" width="44" height="15" fill="#ffffff" stroke="#8a8a8a" stroke-width="1"/>
<text x="3321" y="1323.5" font-size="9" fill="#555">@L2</text>
<polygon points="3355,1318 3358,1314 3361,1318" fill="#444"/>
<polygon points="3355,1321 3358,1325 3361,1321" fill="#444"/>
<polyline class="ar" points="3365,1315 3369,1320 3365,1325"/>
<rect class="pc" x="3413" y="1306.5" width="28" height="25"/>
<text class="pr" x="3437" y="1324.5">list</text>
<text class="lc" x="3436" y="1348">AUTO</text>
<rect class="pbd" x="3289" y="1279" width="152" height="77"/>
</g>
<g id="geometry-color-2">
<rect class="pb" x="3566" y="1253" width="268" height="103"/>
<rect class="ph" x="3566" y="1253" width="268" height="28"/>
<text class="ht" x="3700" y="1271.5">GeometryColor.ByGeometryColor</text>
<rect class="pc" x="3566" y="1281.5" width="124" height="24"/>
<rect class="pc" x="3566" y="1307" width="124" height="24.5"/>
<text class="pl" x="3572" y="1297.5">geometry</text>
<text class="pl" x="3572" y="1323.5">color</text>
<polyline class="ar" points="3682,1288 3686,1293 3682,1298"/>
<polyline class="ar" points="3682,1314 3686,1319 3682,1324"/>
<rect class="pc" x="3730" y="1281.5" width="104" height="24"/>
<text class="pr" x="3830" y="1297.5">GeometryColor</text>
<text class="lc" x="3830" y="1349">||\</text>
<rect class="pbd" x="3566" y="1253" width="268" height="103"/>
</g>
</g>
<g id="port-nubs">
<ellipse class="nub" cx="350" cy="264" rx="2.5" ry="4.5"/>
<ellipse class="nub" cx="347" cy="333" rx="2.5" ry="4.5"/>
<ellipse class="nub" cx="347" cy="424" rx="2.5" ry="4.5"/>
<ellipse class="nub" cx="343" cy="496" rx="2.5" ry="4.5"/>
<ellipse class="nub" cx="449" cy="283" rx="2.5" ry="4.5"/>
<ellipse class="nub" cx="449" cy="300.5" rx="2.5" ry="4.5"/>
<ellipse class="nub" cx="449" cy="318" rx="2.5" ry="4.5"/>
<ellipse class="nub" cx="449" cy="336.5" rx="2.5" ry="4.5"/>
<ellipse class="nub" cx="813" cy="192.6" rx="2.5" ry="4.5"/>
<ellipse class="nub" cx="832" cy="283.5" rx="2.5" ry="4.5"/>
<ellipse class="nub" cx="832" cy="318" rx="2.5" ry="4.5"/>
<ellipse class="nub" cx="832" cy="353" rx="2.5" ry="4.5"/>
<ellipse class="nub" cx="832" cy="388" rx="2.5" ry="4.5"/>
<ellipse class="nub" cx="832" cy="424" rx="2.5" ry="4.5"/>
<ellipse class="nub" cx="832" cy="459" rx="2.5" ry="4.5"/>
<ellipse class="nub" cx="832" cy="494" rx="2.5" ry="4.5"/>
<ellipse class="nub" cx="832" cy="529" rx="2.5" ry="4.5"/>
<ellipse class="nub" cx="832" cy="564" rx="2.5" ry="4.5"/>
<ellipse class="nub" cx="1055" cy="148" rx="2.5" ry="4.5"/>
<ellipse class="nub" cx="1055" cy="174" rx="2.5" ry="4.5"/>
<ellipse class="nub" cx="1055" cy="226" rx="2.5" ry="4.5"/>
<ellipse class="nub" cx="1055" cy="318" rx="2.5" ry="4.5"/>
<ellipse class="nub" cx="1055" cy="344" rx="2.5" ry="4.5"/>
<ellipse class="nub" cx="1055" cy="370" rx="2.5" ry="4.5"/>
<ellipse class="nub" cx="1055" cy="396" rx="2.5" ry="4.5"/>
<ellipse class="nub" cx="1308" cy="148" rx="2.5" ry="4.5"/>
<ellipse class="nub" cx="1307" cy="318" rx="2.5" ry="4.5"/>
<ellipse class="nub" cx="1442" cy="289.5" rx="2.5" ry="4.5"/>
<ellipse class="nub" cx="1442" cy="315.5" rx="2.5" ry="4.5"/>
<ellipse class="nub" cx="1453" cy="522" rx="2.5" ry="4.5"/>
<ellipse class="nub" cx="1453" cy="539.5" rx="2.5" ry="4.5"/>
<ellipse class="nub" cx="1453" cy="557" rx="2.5" ry="4.5"/>
<ellipse class="nub" cx="1453" cy="574.5" rx="2.5" ry="4.5"/>
<ellipse class="nub" cx="1629" cy="522" rx="2.5" ry="4.5"/>
<ellipse class="nub" cx="1629" cy="540" rx="2.5" ry="4.5"/>
<ellipse class="nub" cx="1629" cy="574.5" rx="2.5" ry="4.5"/>
<ellipse class="nub" cx="1629" cy="592" rx="2.5" ry="4.5"/>
<ellipse class="nub" cx="1645" cy="289.5" rx="2.5" ry="4.5"/>
<ellipse class="nub" cx="1776" cy="120" rx="2.5" ry="4.5"/>
<ellipse class="nub" cx="1910" cy="120" rx="2.5" ry="4.5"/>
<ellipse class="nub" cx="1774" cy="256" rx="2.5" ry="4.5"/>
<ellipse class="nub" cx="1777" cy="346" rx="2.5" ry="4.5"/>
<ellipse class="nub" cx="1936" cy="256" rx="2.5" ry="4.5"/>
<ellipse class="nub" cx="1933" cy="346" rx="2.5" ry="4.5"/>
<ellipse class="nub" cx="2017" cy="284" rx="2.5" ry="4.5"/>
<ellipse class="nub" cx="2017" cy="311" rx="2.5" ry="4.5"/>
<ellipse class="nub" cx="2135" cy="284" rx="2.5" ry="4.5"/>
<ellipse class="nub" cx="2216" cy="426.5" rx="2.5" ry="4.5"/>
<ellipse class="nub" cx="2216" cy="453" rx="2.5" ry="4.5"/>
<ellipse class="nub" cx="2404" cy="426.5" rx="2.5" ry="4.5"/>
<ellipse class="nub" cx="2458" cy="426.5" rx="2.5" ry="4.5"/>
<ellipse class="nub" cx="2562" cy="426.5" rx="2.5" ry="4.5"/>
<ellipse class="nub" cx="2562" cy="444" rx="2.5" ry="4.5"/>
<ellipse class="nub" cx="2680" cy="265" rx="2.5" ry="4.5"/>
<ellipse class="nub" cx="2680" cy="291" rx="2.5" ry="4.5"/>
<ellipse class="nub" cx="2882" cy="265" rx="2.5" ry="4.5"/>
<ellipse class="nub" cx="2664" cy="532" rx="2.5" ry="4.5"/>
<ellipse class="nub" cx="2664" cy="550" rx="2.5" ry="4.5"/>
<ellipse class="nub" cx="2664" cy="568" rx="2.5" ry="4.5"/>
<ellipse class="nub" cx="2664" cy="585.5" rx="2.5" ry="4.5"/>
<ellipse class="nub" cx="2664" cy="603" rx="2.5" ry="4.5"/>
<ellipse class="nub" cx="2664" cy="620.7" rx="2.5" ry="4.5"/>
<ellipse class="nub" cx="2841" cy="532" rx="2.5" ry="4.5"/>
<ellipse class="nub" cx="2841" cy="550" rx="2.5" ry="4.5"/>
<ellipse class="nub" cx="2841" cy="585.5" rx="2.5" ry="4.5"/>
<ellipse class="nub" cx="2841" cy="603" rx="2.5" ry="4.5"/>
<ellipse class="nub" cx="2841" cy="638.6" rx="2.5" ry="4.5"/>
<ellipse class="nub" cx="2841" cy="656" rx="2.5" ry="4.5"/>
<ellipse class="nub" cx="2841" cy="691" rx="2.5" ry="4.5"/>
<ellipse class="nub" cx="2986" cy="121" rx="2.5" ry="4.5"/>
<ellipse class="nub" cx="2986" cy="139" rx="2.5" ry="4.5"/>
<ellipse class="nub" cx="3119" cy="121" rx="2.5" ry="4.5"/>
<ellipse class="nub" cx="3119" cy="139" rx="2.5" ry="4.5"/>
<ellipse class="nub" cx="3272" cy="110" rx="2.5" ry="4.5"/>
<ellipse class="nub" cx="3272" cy="136" rx="2.5" ry="4.5"/>
<ellipse class="nub" cx="3516" cy="110" rx="2.5" ry="4.5"/>
<ellipse class="nub" cx="2986" cy="317" rx="2.5" ry="4.5"/>
<ellipse class="nub" cx="3161" cy="317" rx="2.5" ry="4.5"/>
<ellipse class="nub" cx="3623" cy="288" rx="2.5" ry="4.5"/>
<ellipse class="nub" cx="3623" cy="313.7" rx="2.5" ry="4.5"/>
<ellipse class="nub" cx="3853" cy="288" rx="2.5" ry="4.5"/>
<ellipse class="nub" cx="2976" cy="508" rx="2.5" ry="4.5"/>
<ellipse class="nub" cx="2976" cy="533" rx="2.5" ry="4.5"/>
<ellipse class="nub" cx="2976" cy="560" rx="2.5" ry="4.5"/>
<ellipse class="nub" cx="2977" cy="656" rx="2.5" ry="4.5"/>
<ellipse class="nub" cx="2977" cy="681" rx="2.5" ry="4.5"/>
<ellipse class="nub" cx="2977" cy="708" rx="2.5" ry="4.5"/>
<ellipse class="nub" cx="3203" cy="508" rx="2.5" ry="4.5"/>
<ellipse class="nub" cx="3204" cy="656" rx="2.5" ry="4.5"/>
<ellipse class="nub" cx="3352" cy="577" rx="2.5" ry="4.5"/>
<ellipse class="nub" cx="3352" cy="603" rx="2.5" ry="4.5"/>
<ellipse class="nub" cx="3470.5" cy="577" rx="2.5" ry="4.5"/>
<ellipse class="nub" cx="2588" cy="911" rx="2.5" ry="4.5"/>
<ellipse class="nub" cx="2493" cy="1052" rx="2.5" ry="4.5"/>
<ellipse class="nub" cx="2601" cy="1052" rx="2.5" ry="4.5"/>
<ellipse class="nub" cx="2601" cy="1070" rx="2.5" ry="4.5"/>
<ellipse class="nub" cx="2739" cy="973" rx="2.5" ry="4.5"/>
<ellipse class="nub" cx="2739" cy="999" rx="2.5" ry="4.5"/>
<ellipse class="nub" cx="2739" cy="1025" rx="2.5" ry="4.5"/>
<ellipse class="nub" cx="3034" cy="973" rx="2.5" ry="4.5"/>
<ellipse class="nub" cx="3111" cy="978" rx="2.5" ry="4.5"/>
<ellipse class="nub" cx="3111" cy="1004" rx="2.5" ry="4.5"/>
<ellipse class="nub" cx="3229" cy="978" rx="2.5" ry="4.5"/>
<ellipse class="nub" cx="3569" cy="959" rx="2.5" ry="4.5"/>
<ellipse class="nub" cx="3569" cy="984" rx="2.5" ry="4.5"/>
<ellipse class="nub" cx="2585" cy="1252" rx="2.5" ry="4.5"/>
<ellipse class="nub" cx="2491" cy="1393" rx="2.5" ry="4.5"/>
<ellipse class="nub" cx="2600" cy="1393" rx="2.5" ry="4.5"/>
<ellipse class="nub" cx="2600" cy="1411" rx="2.5" ry="4.5"/>
<ellipse class="nub" cx="2736" cy="1314" rx="2.5" ry="4.5"/>
<ellipse class="nub" cx="2736" cy="1340" rx="2.5" ry="4.5"/>
<ellipse class="nub" cx="2736" cy="1366" rx="2.5" ry="4.5"/>
<ellipse class="nub" cx="3031" cy="1314" rx="2.5" ry="4.5"/>
<ellipse class="nub" cx="3108" cy="1320" rx="2.5" ry="4.5"/>
<ellipse class="nub" cx="3108" cy="1344" rx="2.5" ry="4.5"/>
<ellipse class="nub" cx="3226" cy="1320" rx="2.5" ry="4.5"/>
<ellipse class="nub" cx="3289" cy="1320" rx="2.5" ry="4.5"/>
<ellipse class="nub" cx="3441" cy="1320" rx="2.5" ry="4.5"/>
<ellipse class="nub" cx="3566" cy="1293" rx="2.5" ry="4.5"/>
<ellipse class="nub" cx="3566" cy="1319" rx="2.5" ry="4.5"/>
</g>
</svg>
